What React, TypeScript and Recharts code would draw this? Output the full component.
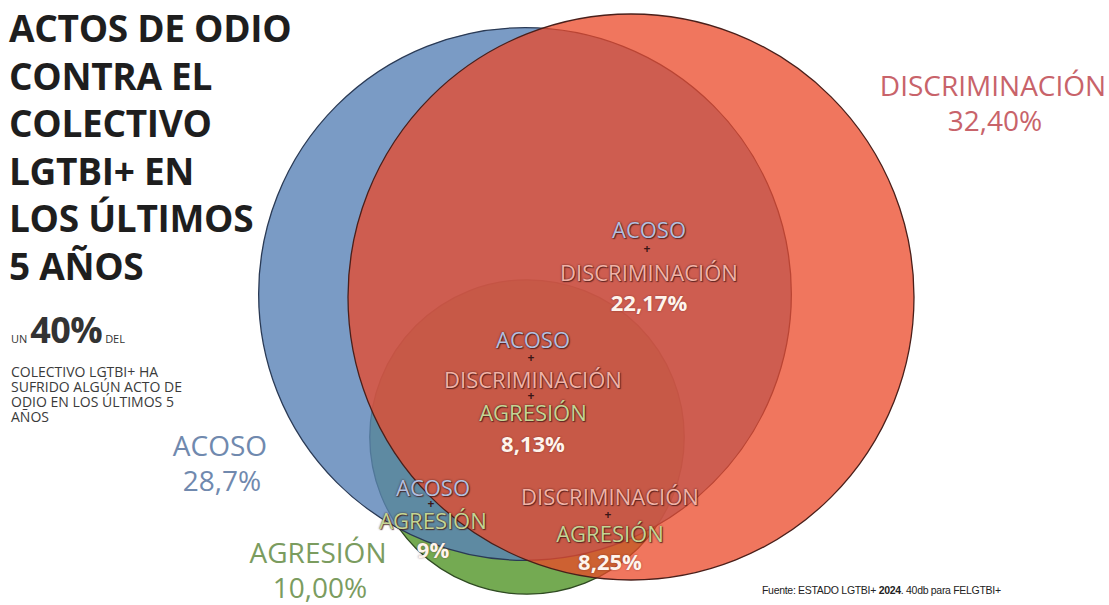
import React from "react";
import { ScatterChart, Scatter, XAxis, YAxis, ZAxis } from "recharts";

// totals for each group (% of the collective)
const categories = ["AGRESIÓN", "ACOSO", "DISCRIMINACIÓN"];
const totals = [10.0, 28.7, 32.4];
const totalLabels = ["10,00%", "28,7%", "32,40%"];

// overlaps between groups
const overlapNames = [
  ["ACOSO", "DISCRIMINACIÓN"],
  ["ACOSO", "DISCRIMINACIÓN", "AGRESIÓN"],
  ["ACOSO", "AGRESIÓN"],
  ["DISCRIMINACIÓN", "AGRESIÓN"],
];
const overlapValues = [22.17, 8.13, 9, 8.25];
const overlapLabels = ["22,17%", "8,13%", "9%", "8,25%"];

// venn layout, in chart units (x: 0..1109, y: 0..605)
const circleCenters = [
  { x: 527, y: 437 },
  { x: 525, y: 294 },
  { x: 631, y: 297 },
];

const W = 1109;
const H = 605;
const MAX_R = 283;

const circleStyles = [
  { fill: "#74aa52", opacity: 1, stroke: "#2f4a22" },
  { fill: "#5982b7", opacity: 0.8, stroke: "#2a3a55" },
  { fill: "#eb4828", opacity: 0.75, stroke: "#4a1f1a" },
];

const FONT = "'Open Sans', 'Noto Sans', sans-serif";

const makeShape = (i: number) => (props: any) => {
  const r = props.width ? props.width / 2 : Math.sqrt((props.size || 0) / Math.PI);
  const s = circleStyles[i];
  return (
    <circle
      cx={props.cx}
      cy={props.cy}
      r={r}
      fill={s.fill}
      fillOpacity={s.opacity}
      stroke={s.stroke}
      strokeWidth={1.3}
    />
  );
};

const Txt = ({
  x,
  y,
  children,
  size,
  color,
  bold,
  shadow,
}: {
  x: number;
  y: number;
  children: React.ReactNode;
  size: number;
  color: string;
  bold?: boolean;
  shadow?: string;
}) => (
  <div
    style={{
      position: "absolute",
      left: x,
      top: y,
      transform: "translate(-50%, -50%)",
      fontFamily: FONT,
      fontSize: size,
      fontWeight: bold ? 700 : 400,
      color,
      lineHeight: 1,
      whiteSpace: "nowrap",
      textShadow: shadow,
    }}
  >
    {children}
  </div>
);

const regionShadow = "0 0 2px rgba(70,25,25,0.9), 1px 1px 1px rgba(60,20,20,0.7)";
const regionColor: Record<string, string> = {
  ACOSO: "#b3bfdf",
  DISCRIMINACIÓN: "#f2b2a6",
  AGRESIÓN: "#c4d594",
};

// label anchor points for each overlap: name lines, then value
const overlapAnchors = [
  { x: 649, ys: [229, 272], plus: [249], vy: 302 },
  { x: 533, ys: [339, 379, 412], plus: [358, 396], vy: 443 },
  { x: 433, ys: [487, 520], plus: [504], vy: 549 },
  { x: 610, ys: [496, 533], plus: [515], vy: 561 },
];

const totalAnchors = [
  { x: 318, y: 552, color: "#7b9c5f" },
  { x: 220, y: 445, color: "#7089ae" },
  { x: 993, y: 85, color: "#c8636a" },
];

export default function App() {
  const points = circleCenters.map((c, i) => ({
    x: c.x,
    y: c.y,
    z: totals[i],
    name: categories[i],
  }));

  return (
    <div style={{ position: "absolute", left: 0, top: 0, width: W, height: H, background: "#fff", overflow: "hidden" }}>
      <ScatterChart width={W} height={H} margin={{ top: 0, right: 0, bottom: 0, left: 0 }}>
        <XAxis type="number" dataKey="x" domain={[0, W]} hide />
        <YAxis type="number" dataKey="y" domain={[0, H]} reversed hide />
        <ZAxis
          type="number"
          dataKey="z"
          domain={[0, totals[2]]}
          range={[0, Math.PI * MAX_R * MAX_R]}
        />
        {points.map((p, i) => (
          <Scatter
            key={p.name}
            data={[p]}
            shape={makeShape(i)}
            isAnimationActive={false}
          />
        ))}
      </ScatterChart>

      {/* title */}
      <div
        style={{
          position: "absolute",
          left: 9,
          top: 4,
          fontFamily: FONT,
          fontWeight: 700,
          fontSize: 37,
          lineHeight: "47.6px",
          color: "#1e1e1e",
          letterSpacing: -0.3,
        }}
      >
        ACTOS DE ODIO
        <br />
        CONTRA EL
        <br />
        COLECTIVO
        <br />
        LGTBI+ EN
        <br />
        LOS ÚLTIMOS
        <br />5 AÑOS
      </div>

      {/* subtitle */}
      <div
        style={{
          position: "absolute",
          left: 11,
          top: 312,
          fontFamily: FONT,
          color: "#333",
          whiteSpace: "nowrap",
        }}
      >
        <div style={{ lineHeight: "36px" }}>
          <span style={{ fontSize: 11 }}>UN </span>
          <span style={{ fontSize: 36, fontWeight: 700, letterSpacing: -0.5 }}>40%</span>
          <span style={{ fontSize: 11 }}> DEL</span>
        </div>
        <div style={{ fontSize: 14, lineHeight: "15px", marginTop: 7, color: "#3a3a3a" }}>
          COLECTIVO LGTBI+ HA
          <br />
          SUFRIDO ALGÚN ACTO DE
          <br />
          ODIO EN LOS ÚLTIMOS 5
          <br />
          AÑOS
        </div>
      </div>

      {/* totals */}
      {totalAnchors.map((a, i) => (
        <React.Fragment key={categories[i]}>
          <Txt x={a.x} y={a.y} size={28} color={a.color}>
            {categories[i]}
          </Txt>
          <Txt x={a.x + 2} y={a.y + 35} size={28} color={a.color}>
            {totalLabels[i]}
          </Txt>
        </React.Fragment>
      ))}

      {/* overlaps */}
      {overlapAnchors.map((a, i) => (
        <React.Fragment key={"ov" + i}>
          {overlapNames[i].map((n, j) => (
            <Txt key={n} x={a.x} y={a.ys[j]} size={22} color={regionColor[n]} shadow={regionShadow}>
              {n}
            </Txt>
          ))}
          {a.plus.map((py) => (
            <Txt key={"p" + py} x={a.x - 2} y={py} size={12} color="#3a1616" bold>
              +
            </Txt>
          ))}
          <Txt x={a.x} y={a.vy} size={22} color="#fff4ec" bold shadow="0 0 2px rgba(90,30,30,0.6)">
            {overlapValues[i] !== undefined ? overlapLabels[i] : ""}
          </Txt>
        </React.Fragment>
      ))}

      {/* source */}
      <div
        style={{
          position: "absolute",
          left: 762,
          top: 584,
          fontFamily: "'Liberation Sans', Arial, sans-serif",
          fontSize: 10.5,
          color: "#222",
          whiteSpace: "nowrap",
          letterSpacing: -0.3,
        }}
      >
        Fuente: ESTADO LGTBI+ <b>2024</b>. 40db para FELGTBI+
      </div>
    </div>
  );
}
